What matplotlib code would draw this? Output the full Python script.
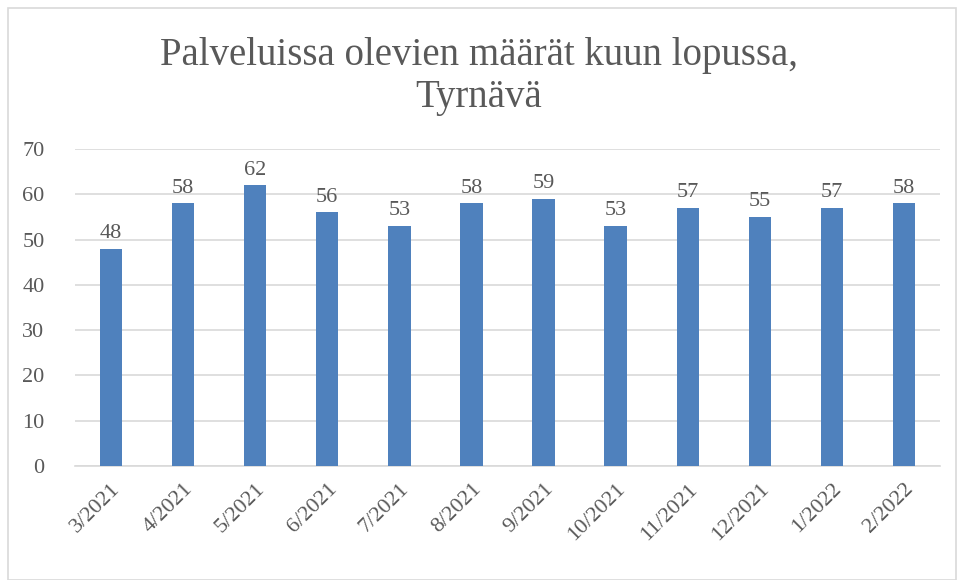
import matplotlib.pyplot as plt
from matplotlib.patches import Rectangle

months = ["3/2021", "4/2021", "5/2021", "6/2021", "7/2021", "8/2021",
          "9/2021", "10/2021", "11/2021", "12/2021", "1/2022", "2/2022"]
counts = [48, 58, 62, 56, 53, 58, 59, 53, 57, 55, 57, 58]
y_ticks = [0, 10, 20, 30, 40, 50, 60, 70]

TEXT = "#595959"
BAR = "#4F81BD"
GRID = "#D9D9D9"

plt.rcParams["font.family"] = ["Liberation Serif", "DejaVu Serif"]

W, H = 957, 580
fig = plt.figure(figsize=(W / 100, H / 100), dpi=100)
ax = fig.add_axes([75 / W, 1 - 466 / H, 865 / W, (466 - 149) / H])

x = range(len(months))
bars = ax.bar(x, counts, width=0.31, color=BAR, zorder=3)
for rect, v in zip(bars, counts):
    ax.annotate(str(v), (rect.get_x() + rect.get_width() / 2, v),
                xytext=(0, 4), textcoords="offset points",
                ha="center", va="bottom", fontsize=16, color=TEXT)

ax.set_xlim(-0.5, len(months) - 0.5)
ax.set_ylim(0, 70)
ax.set_yticks(y_ticks)
ax.set_xticks(list(x))
ax.set_xticklabels(months, rotation=45, ha="right", rotation_mode="anchor")
ax.tick_params(axis="both", length=0, labelsize=16, labelcolor=TEXT)
ax.tick_params(axis="y", pad=22)
ax.tick_params(axis="x", pad=10)
ax.grid(axis="y", color=GRID, linewidth=1.2, zorder=0)
for side in ["top", "right", "left"]:
    ax.spines[side].set_visible(False)
ax.spines["bottom"].set_color(GRID)
ax.spines["bottom"].set_linewidth(1.2)

fig.text(0.5, 1 - 55 / H, "Palveluissa olevien määrät kuun lopussa,",
         ha="center", va="center", fontsize=28, color=TEXT)
fig.text(0.5, 1 - 98 / H, "Tyrnävä",
         ha="center", va="center", fontsize=28, color=TEXT)

# chart frame
fig.patches.append(Rectangle((8 / W, 0), 1 - 8 / W - 1 / W, 1 - 8 / H,
                             transform=fig.transFigure, fill=False,
                             edgecolor=GRID, linewidth=1.2))

fig.savefig("out.png", dpi=100)
